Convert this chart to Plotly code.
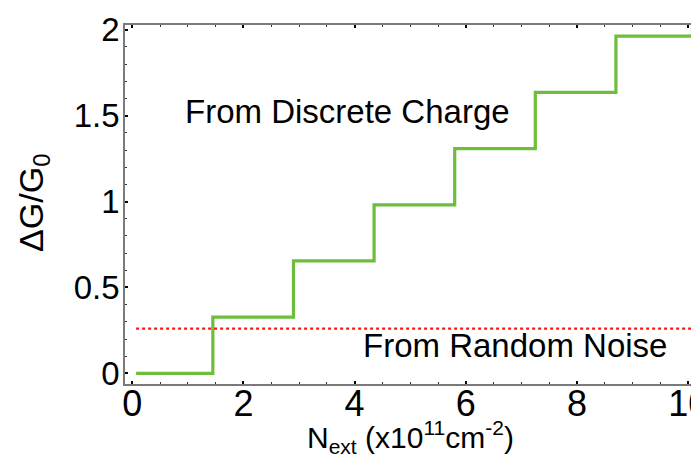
import plotly.graph_objects as go

# Data
step_x = [0.07, 1.45, 2.90, 4.35, 5.80, 7.25, 8.70, 10.05]
step_levels = [0.0, 0.327, 0.655, 0.981, 1.308, 1.636, 1.963, 1.963]
noise_x = [0.07, 10.05]
noise_level = [0.26, 0.26]

x_tickvals = [0, 2, 4, 6, 8, 10]
x_ticktext = ["0", "2", "4", "6", "8", "10"]
y_tickvals = [0, 0.5, 1, 1.5, 2]
y_ticktext = ["0", "0.5", "1", "1.5", "2"]

x_title = "N<sub>ext</sub> (x10<sup>11</sup>cm<sup>-2</sup>)"
y_title = "ΔG/G<sub>0</sub>"

FONT = "Liberation Sans, Arial, sans-serif"

fig = go.Figure()
fig.add_trace(go.Scatter(x=step_x, y=step_levels, mode="lines", line_shape="hv",
                         line=dict(color="rgb(108,190,60)", width=3.2), showlegend=False))
fig.add_trace(go.Scatter(x=noise_x, y=noise_level, mode="lines",
                         line=dict(color="rgb(255,20,20)", width=2.2, dash="dot"), showlegend=False))

fig.add_annotation(x=3.88, y=1.526, xref="x", yref="y", text="From Discrete Charge",
                   showarrow=False, font=dict(family=FONT, size=33, color="black"))
fig.add_annotation(x=6.88, y=0.163, xref="x", yref="y", text="From Random Noise",
                   showarrow=False, font=dict(family=FONT, size=33, color="black"))

# axis titles placed as annotations for precise positioning
fig.add_annotation(x=0.495, y=-0.149, xref="paper", yref="paper", text=x_title,
                   showarrow=False, xanchor="center", yanchor="middle",
                   font=dict(family=FONT, size=30, color="black"))
fig.add_annotation(x=-0.16, y=0.504, xref="paper", yref="paper", text=y_title,
                   showarrow=False, xanchor="center", yanchor="middle", textangle=-90,
                   font=dict(family=FONT, size=34, color="black"))

axis_common = dict(showline=True, linecolor="#7a7a7a", linewidth=1.5, mirror="ticks",
                   ticks="inside", ticklen=3, tickwidth=1.5, tickcolor="black",
                   showgrid=False, zeroline=False, automargin=False,
                   ticklabeloverflow="allow")

fig.update_xaxes(range=[-0.13, 10.23], tickvals=x_tickvals, ticktext=x_ticktext,
                 minor=dict(dtick=0.5, ticks="inside", ticklen=2, tickcolor="#333", tickwidth=1),
                 tickfont=dict(family=FONT, size=36, color="black"), ticklabelstandoff=-13,
                 **axis_common)
fig.update_yaxes(range=[-0.062, 2.028], tickvals=y_tickvals, ticktext=y_ticktext,
                 minor=dict(dtick=0.1, ticks="inside", ticklen=2, tickcolor="#333", tickwidth=1),
                 tickfont=dict(family=FONT, size=33, color="black"), ticklabelstandoff=-3,
                 **axis_common)

fig.update_layout(width=699, height=459, plot_bgcolor="white", paper_bgcolor="white",
                  margin=dict(l=117, r=6, t=17, b=83))

fig.write_html("out.html")
